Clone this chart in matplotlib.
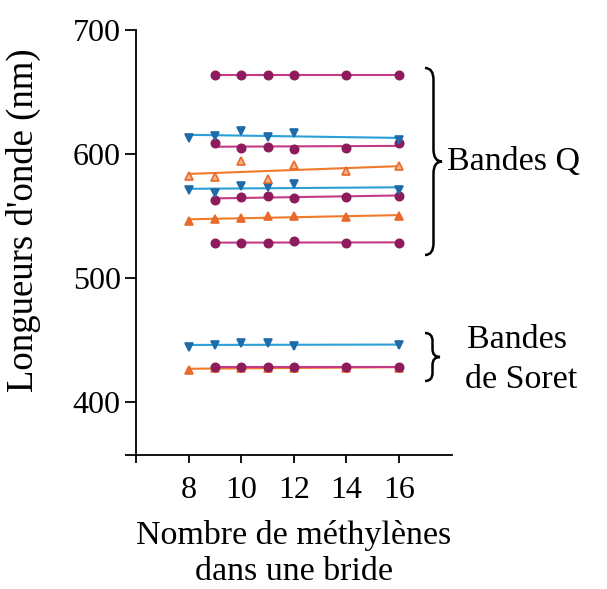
import numpy as np
import matplotlib
matplotlib.use("Agg")
import matplotlib.pyplot as plt
from matplotlib.path import Path
from matplotlib.patches import PathPatch

# methylene counts per series
x_blue = [8, 9, 10, 11, 12, 16]
x_purple = [9, 10, 11, 12, 14, 16]
x_orange = [8, 9, 10, 11, 12, 14, 16]

# Q bands (nm)
purple_q1 = [664, 664, 664, 664, 664, 664]
blue_q1 = [612.6, 614.4, 618.5, 613.4, 616.6, 611.2]
purple_q2 = [608.6, 605, 605.3, 604, 605, 608.6]
orange_q1 = [582.2, 581.6, 594.3, 580, 591, 586.4, 590.2]
blue_q2 = [570.9, 568.7, 574, 573.5, 575.7, 570.9]
purple_q3 = [562.8, 565, 566.3, 564.7, 565.5, 566.3]
orange_q2 = [546, 547.2, 548.5, 549.9, 550.1, 548.8, 550.1]
purple_q4 = [528.3, 527.8, 528.3, 529.9, 528.3, 528.3]

# Soret bands (nm)
blue_soret = [444.4, 445.8, 447.6, 447.1, 444.9, 445.8]
orange_soret = [425.6, 427, 427.5, 427.5, 427.5, 427.5, 427.5]
purple_soret = [428.2, 428.2, 428.2, 428.2, 428.2, 428.2]

x_ticks = [6, 8, 10, 12, 14, 16]
x_ticklabels = ["", "8", "10", "12", "14", "16"]
y_ticks = [357, 400, 500, 600, 700]
y_ticklabels = ["", "400", "500", "600", "700"]

BLUE_LINE, BLUE_MK = "#2b9fd8", "#1f6aa8"
PURPLE_LINE, PURPLE_MK = "#c43a86", "#8e1c5c"
ORANGE_LINE, ORANGE_MK = "#f07a2a", "#e8692a"

plt.rcParams["font.family"] = ["Liberation Serif", "DejaVu Serif"]

fig = plt.figure(figsize=(6.07, 5.89), dpi=100)
ax = fig.add_axes([0.2241, 0.2275, 0.52, 0.7216])


def fitted(ax, x, y, line_color, mk_color, marker, face=None, ms=5.5):
    x = np.asarray(x, float)
    y = np.asarray(y, float)
    a, b = np.polyfit(x, y, 1)
    xs = np.array([x.min(), x.max()])
    ax.plot(xs, a * xs + b, color=line_color, lw=1.5, zorder=2)
    ax.plot(x, y, linestyle="none", marker=marker, ms=ms, color=mk_color,
            markerfacecolor=face if face else mk_color,
            markeredgewidth=1.2, zorder=3)


fitted(ax, x_orange, orange_soret, ORANGE_LINE, ORANGE_MK, "^")
fitted(ax, x_purple, purple_soret, PURPLE_LINE, PURPLE_MK, "o", ms=6)
fitted(ax, x_blue, blue_soret, BLUE_LINE, BLUE_MK, "v")

fitted(ax, x_purple, purple_q4, PURPLE_LINE, PURPLE_MK, "o", ms=6)
fitted(ax, x_orange, orange_q2, ORANGE_LINE, ORANGE_MK, "^")
fitted(ax, x_purple, purple_q3, PURPLE_LINE, PURPLE_MK, "o", ms=6)
fitted(ax, x_blue, blue_q2, BLUE_LINE, BLUE_MK, "v")
fitted(ax, x_orange, orange_q1, ORANGE_LINE, ORANGE_MK, "^", face="#f6b58a")
fitted(ax, x_purple, purple_q2, PURPLE_LINE, PURPLE_MK, "o", ms=6)
fitted(ax, x_blue, blue_q1, BLUE_LINE, BLUE_MK, "v")
fitted(ax, x_purple, purple_q1, PURPLE_LINE, PURPLE_MK, "o", ms=6)

ax.set_xlim(6, 18)
ax.set_ylim(357, 700)
ax.set_xticks(x_ticks)
ax.set_xticklabels(x_ticklabels)
ax.set_yticks(y_ticks)
ax.set_yticklabels(y_ticklabels)
ax.spines["top"].set_visible(False)
ax.spines["right"].set_visible(False)
for s in ("left", "bottom"):
    ax.spines[s].set_linewidth(1.3)
ax.tick_params(axis="y", direction="out", length=8, width=1.3, labelsize=23, pad=3)
ax.tick_params(axis="x", direction="out", length=6, width=1.3, labelsize=23, pad=9)

ax.set_xlabel("Nombre de méthylènes\ndans une bride", fontsize=24.5,
              linespacing=1.25, labelpad=11)
ax.set_ylabel("Longueurs d'onde (nm)", fontsize=26.5)
ax.yaxis.set_label_coords(-0.30, 0.553)


def brace(x0, ytop, ybot, w, r):
    # curly brace in figure pixels (y measured from top), tip to the right
    H = fig.bbox.height
    W = fig.bbox.width
    h = w / 2.0
    ym = (ytop + ybot) / 2.0
    pts = [
        (x0, ytop), (x0 + h, ytop), (x0 + h, ytop + r),
        (x0 + h, ym - r),
        (x0 + h, ym), (x0 + w, ym),
        (x0 + h, ym), (x0 + h, ym + r),
        (x0 + h, ybot - r),
        (x0 + h, ybot), (x0, ybot),
    ]
    codes = [Path.MOVETO, Path.CURVE3, Path.CURVE3, Path.LINETO,
             Path.CURVE3, Path.CURVE3, Path.CURVE3, Path.CURVE3,
             Path.LINETO, Path.CURVE3, Path.CURVE3]
    verts = [(px / W, 1 - py / H) for px, py in pts]
    fig.patches.append(PathPatch(Path(verts, codes), transform=fig.transFigure,
                                 fill=False, lw=1.8, color="black"))


brace(425, 68, 255, 17, 12)
brace(425, 333, 381, 15, 8)

fig.text(447 / 607, 1 - 162 / 589, "Bandes Q", fontsize=24.5, va="center", ha="left")
fig.text(467 / 607, 1 - 340 / 589, "Bandes", fontsize=24.5, va="center", ha="left")
fig.text(465 / 607, 1 - 380 / 589, "de Soret", fontsize=24.5, va="center", ha="left")

fig.savefig("out.png", dpi=100)
